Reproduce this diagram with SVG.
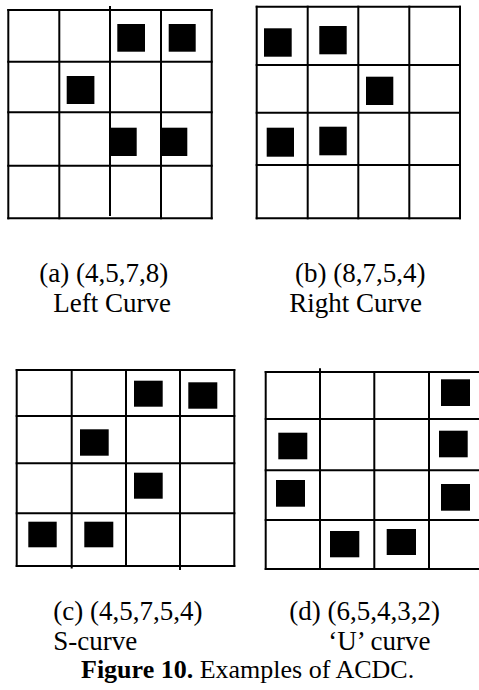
<svg xmlns="http://www.w3.org/2000/svg" width="479" height="690" viewBox="0 0 479 690">
<style>
.g line{stroke:#000;stroke-width:2;stroke-linecap:square}
.g rect{fill:#000}
text{font-family:"Liberation Serif","Times New Roman",serif;font-size:27px;fill:#000}
.cap{font-size:26px}
.b{font-weight:bold}
</style>
<rect width="479" height="690" fill="#fff"/>
<g id="grid-a" class="g">
<line x1="8.3" y1="10" x2="8.3" y2="218.3"/>
<line x1="59.3" y1="10" x2="59.3" y2="218.3"/>
<line x1="110" y1="7" x2="110" y2="215"/>
<line x1="161" y1="10" x2="161" y2="218.3"/>
<line x1="211.7" y1="10" x2="211.7" y2="218.3"/>
<line x1="8.3" y1="10" x2="211.7" y2="10"/>
<line x1="8.3" y1="61.7" x2="211.7" y2="61.7"/>
<line x1="8.3" y1="112.3" x2="211.7" y2="112.3"/>
<line x1="8.3" y1="165.7" x2="211.7" y2="165.7"/>
<line x1="8.3" y1="218.3" x2="211.7" y2="218.3"/>
<rect x="117.3" y="24" width="27.7" height="27.7"/>
<rect x="168.7" y="24" width="27" height="27.7"/>
<rect x="66.7" y="76" width="27.7" height="28"/>
<rect x="110" y="127.7" width="26.7" height="28.3"/>
<rect x="161" y="127.7" width="26.3" height="28.3"/>
</g>
<g id="grid-b" class="g">
<line x1="256.7" y1="6.7" x2="256.7" y2="218.3"/>
<line x1="307.7" y1="6.7" x2="307.7" y2="218.3"/>
<line x1="358.3" y1="6.7" x2="358.3" y2="218.3"/>
<line x1="409.3" y1="6.7" x2="409.3" y2="218.3"/>
<line x1="460" y1="6.7" x2="460" y2="218.3"/>
<line x1="256.7" y1="6.7" x2="460" y2="6.7"/>
<line x1="256.7" y1="65" x2="460" y2="65"/>
<line x1="256.7" y1="112.7" x2="460" y2="112.7"/>
<line x1="256.7" y1="165" x2="460" y2="165"/>
<line x1="256.7" y1="218.3" x2="460" y2="218.3"/>
<rect x="264" y="28.3" width="27.7" height="28.4"/>
<rect x="319.3" y="26" width="27.4" height="28.3"/>
<rect x="366" y="76.7" width="27.3" height="28.3"/>
<rect x="266.7" y="127.7" width="27.3" height="29"/>
<rect x="319.3" y="126.7" width="27.4" height="28.6"/>
</g>
<g id="grid-c" class="g">
<line x1="16.7" y1="370" x2="16.7" y2="566"/>
<line x1="71.7" y1="370" x2="71.7" y2="567.5"/>
<line x1="126" y1="370" x2="126" y2="566"/>
<line x1="180" y1="372" x2="180" y2="569"/>
<line x1="234.3" y1="370" x2="234.3" y2="566"/>
<line x1="16.7" y1="370" x2="234.3" y2="370"/>
<line x1="16.7" y1="416" x2="234.3" y2="416"/>
<line x1="16.7" y1="463.3" x2="234.3" y2="463.3"/>
<line x1="16.7" y1="513.3" x2="234.3" y2="513.3"/>
<line x1="16.7" y1="566" x2="234.3" y2="566"/>
<rect x="134" y="380.7" width="28.7" height="26"/>
<rect x="188.3" y="382.3" width="29" height="26.4"/>
<rect x="80" y="429.3" width="28.7" height="26.4"/>
<rect x="134" y="472.7" width="28.7" height="26"/>
<rect x="28.3" y="521.7" width="28.4" height="25.6"/>
<rect x="84.3" y="521.7" width="29" height="25.6"/>
</g>
<g id="grid-d" class="g">
<line x1="265.7" y1="372" x2="265.7" y2="569"/>
<line x1="320" y1="369.3" x2="320" y2="569"/>
<line x1="374.3" y1="372" x2="374.3" y2="569"/>
<line x1="429" y1="372" x2="429" y2="569"/>
<line x1="483.5" y1="372" x2="483.5" y2="569"/>
<line x1="265.7" y1="372" x2="483.5" y2="372"/>
<line x1="265.7" y1="419" x2="483.5" y2="419"/>
<line x1="265.7" y1="470.3" x2="483.5" y2="470.3"/>
<line x1="265.7" y1="520" x2="483.5" y2="520"/>
<line x1="265.7" y1="569" x2="483.5" y2="569"/>
<rect x="441" y="379.3" width="29" height="26.7"/>
<rect x="278.3" y="432.7" width="29" height="26.6"/>
<rect x="439" y="430.7" width="28.7" height="26.6"/>
<rect x="276" y="480" width="29" height="26.7"/>
<rect x="441" y="484" width="29" height="26.7"/>
<rect x="330" y="531" width="29.3" height="26.3"/>
<rect x="386.7" y="529" width="29.3" height="26"/>
</g>
<g id="labels">
<text x="39.3" y="281.7">(a) (4,5,7,8)</text>
<text x="53.3" y="311.7">Left Curve</text>
<text x="295" y="281.7">(b) (8,7,5,4)</text>
<text x="289.3" y="311.7">Right Curve</text>
<text x="53.3" y="620">(c) (4,5,7,5,4)</text>
<text x="53.3" y="650">S-curve</text>
<text x="289.3" y="620">(d) (6,5,4,3,2)</text>
<text x="328.3" y="650">‘U’ curve</text>
<text class="cap" x="81" y="677.5"><tspan class="b">Figure 10.</tspan> Examples of ACDC.</text>
</g>
</svg>
